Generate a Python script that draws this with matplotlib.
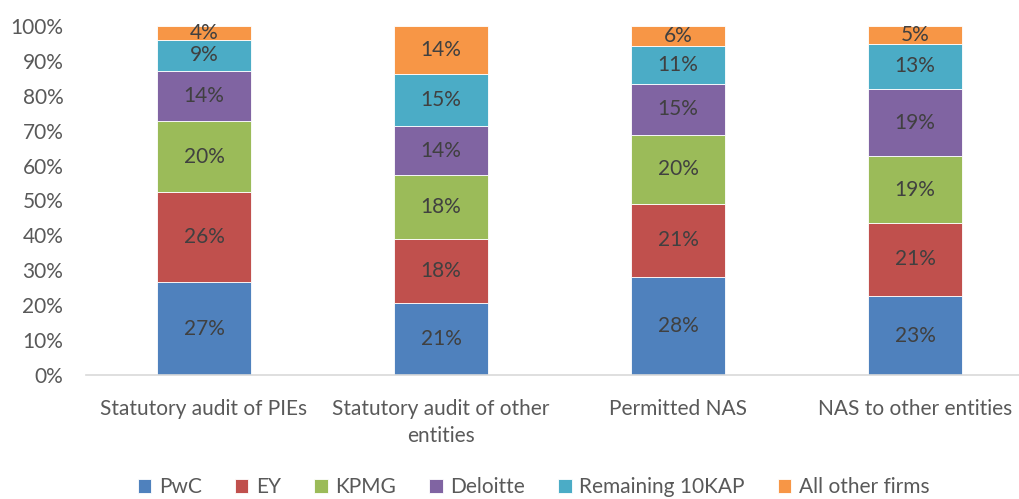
import numpy as np
import matplotlib.pyplot as plt

categories = ['Statutory audit of PIEs', 'Statutory audit of other\nentities',
              'Permitted NAS', 'NAS to other entities']
firms = ['PwC', 'EY', 'KPMG', 'Deloitte', 'Remaining 10KAP', 'All other firms']
pwc = [26.6, 20.7, 28.1, 22.6]
ey = [25.8, 18.2, 20.9, 21.0]
kpmg = [20.3, 18.3, 19.8, 19.1]
deloitte = [14.3, 14.2, 14.6, 19.2]
remaining = [9.1, 14.8, 10.9, 13.0]
others = [3.9, 13.8, 5.7, 5.1]
colors = ['#4F81BD', '#C0504D', '#9BBB59', '#8064A2', '#4BACC6', '#F79646']

plt.rcParams['font.family'] = ['Lato', 'DejaVu Sans']
fs = 15

fig = plt.figure(figsize=(10.19, 4.99), dpi=100)
ax = fig.add_axes([85.5 / 1019, 124 / 499, 948 / 1019, 349 / 499])

x = np.arange(len(categories))
bottom = np.zeros(len(categories))
for name, vals, c in zip(firms, [pwc, ey, kpmg, deloitte, remaining, others], colors):
    vals = np.array(vals)
    ax.bar(x, vals, 0.4, bottom=bottom, color=c, label=name, edgecolor='white', linewidth=0.6)
    for xi, b, v in zip(x, bottom, vals):
        ax.text(xi, b + v / 2, f'{round(v):.0f}%', ha='center', va='center',
                fontsize=fs, color='#404040')
    bottom += vals

ax.set_xlim(-0.5, 3.5)
ax.set_ylim(0, 100)
ax.set_yticks(range(0, 101, 10))
ax.set_yticklabels([f'{v}%' for v in range(0, 101, 10)])
ax.set_xticks(x)
ax.set_xticklabels(categories, linespacing=1.45)
ax.tick_params(axis='both', length=0, labelsize=fs, colors='#595959')
ax.tick_params(axis='x', pad=17)
ax.tick_params(axis='y', pad=16)
for s in ['top', 'right', 'left']:
    ax.spines[s].set_visible(False)
ax.spines['bottom'].set_color('#D9D9D9')
ax.spines['bottom'].set_linewidth(1.2)

fig.legend(loc='center', bbox_to_anchor=(0.5236, 12 / 499), ncol=6, frameon=False,
           fontsize=fs, labelcolor='#595959', handlelength=0.65, handleheight=0.65,
           handletextpad=0.35, columnspacing=1.6)

fig.savefig('out.png', dpi=100)
